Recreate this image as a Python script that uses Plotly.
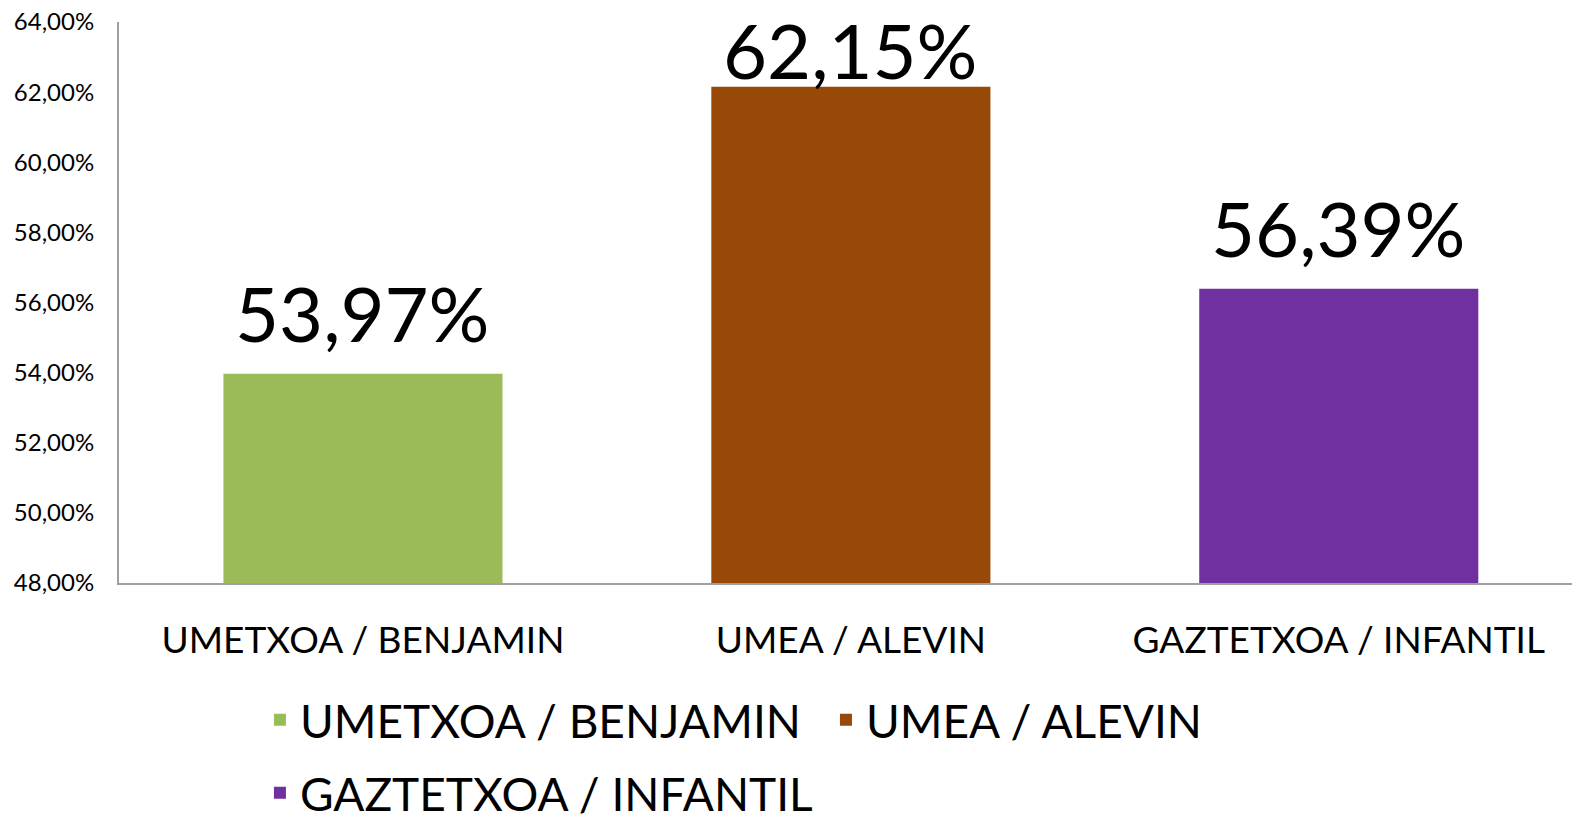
import plotly.graph_objects as go

categories = ["UMETXOA / BENJAMIN", "UMEA / ALEVIN", "GAZTETXOA / INFANTIL"]
values = [53.97, 62.15, 56.39]
colors = ["#9BBB59", "#984807", "#7030A0"]
label_shifts = [14, -10, 14]
legend_rows = ["legend", "legend", "legend2"]
y_ticks = [48, 50, 52, 54, 56, 58, 60, 62, 64]

FONT = "Lato"

def fmt(v):
    return f"{v:.2f}".replace(".", ",") + "%"

fig = go.Figure()
for cat, val, col, lg, sh in zip(categories, values, colors, legend_rows, label_shifts):
    fig.add_trace(go.Bar(
        x=[cat], y=[val], name=cat, legend=lg,
        marker=dict(color=col, line=dict(width=0)),
        hoverinfo="skip",
    ))
    fig.add_annotation(
        x=cat, y=val, text=fmt(val), showarrow=False,
        yanchor="bottom", yshift=sh,
        font=dict(family=FONT, size=76, color="#000000"),
    )

legend_style = dict(
    orientation="h", xanchor="left", yanchor="middle",
    font=dict(family=FONT, size=46, color="#000000"),
    entrywidth=521, entrywidthmode="pixels",
    bgcolor="rgba(0,0,0,0)",
)

fig.update_layout(
    width=1572, height=823,
    margin=dict(l=119, r=0, t=22, b=240, autoexpand=False),
    paper_bgcolor="white", plot_bgcolor="white",
    barmode="overlay", bargap=0.428,
    font=dict(family=FONT, color="#000000"),
    showlegend=True,
    legend=dict(x=0.097, y=-0.244, **legend_style),
    legend2=dict(x=0.097, y=-0.374, **legend_style),
)
fig.update_xaxes(
    categoryorder="array", categoryarray=categories,
    range=[-0.5, 2.478],
    showline=True, linecolor="#A0A0A0", linewidth=2,
    ticks="", showgrid=False, zeroline=False, automargin=False,
    tickfont=dict(family=FONT, size=37, color="#000000"),
    ticklabelstandoff=24,
)
fig.update_yaxes(
    range=[48, 64], tickvals=y_ticks,
    ticktext=[fmt(t) for t in y_ticks],
    showline=True, linecolor="#A0A0A0", linewidth=2,
    ticks="", showgrid=False, zeroline=False, automargin=False,
    tickfont=dict(family=FONT, size=24, color="#000000"),
    ticklabelstandoff=18,
)

fig.write_html(
    "out.html",
    config={"displayModeBar": False},
    post_script="document.body.style.margin='0';document.body.style.overflow='hidden';",
)
